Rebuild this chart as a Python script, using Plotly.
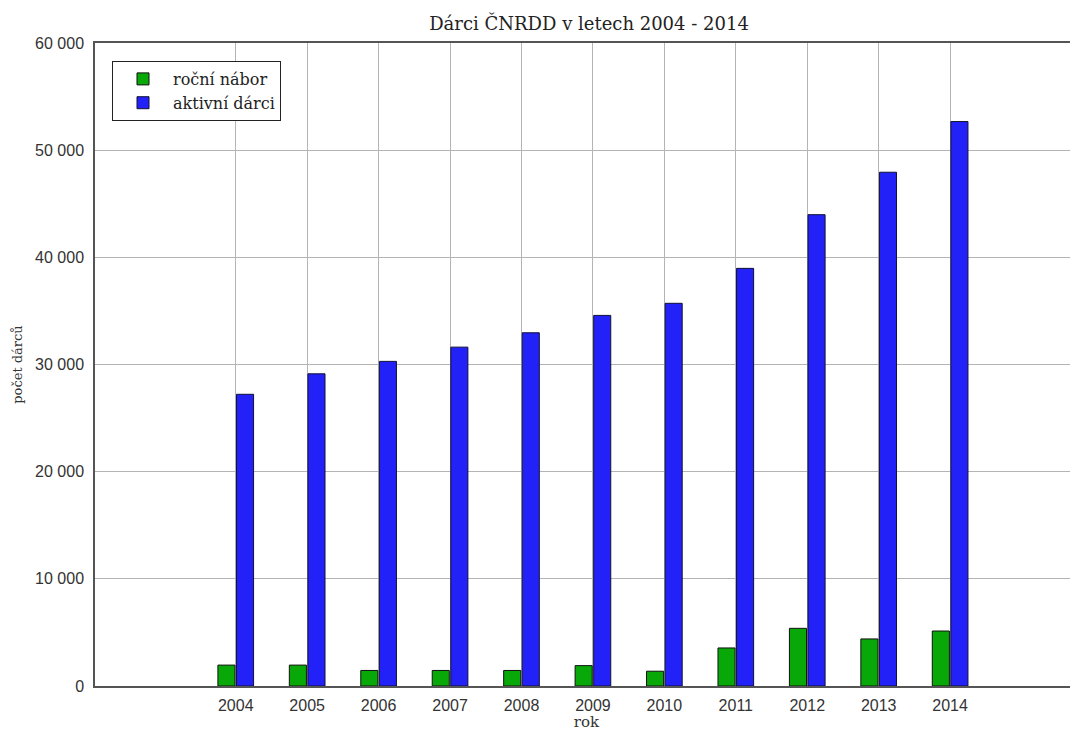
import plotly.graph_objects as go

years = [2004, 2005, 2006, 2007, 2008, 2009, 2010, 2011, 2012, 2013, 2014]
rocni_nabor = [1950, 1950, 1450, 1450, 1450, 1900, 1380, 3550, 5380, 4390, 5130]
aktivni_darci = [27220, 29130, 30290, 31620, 32960, 34580, 35710, 38970, 43980, 47940, 52670]
ytick_vals = [0, 10000, 20000, 30000, 40000, 50000, 60000]
ytick_text = ["0", "10 000", "20 000", "30 000", "40 000", "50 000", "60 000"]

fig = go.Figure()
fig.add_trace(go.Bar(x=years, y=rocni_nabor, name="roční nábor",
                     marker=dict(color="#08a808", line=dict(color="#111111", width=1))))
fig.add_trace(go.Bar(x=years, y=aktivni_darci, name="aktivní dárci",
                     marker=dict(color="#2222f8", line=dict(color="#111133", width=1))))

serif = "DejaVu Serif, Liberation Serif, serif"
sans = "Liberation Sans, Arial, sans-serif"

fig.update_layout(
    width=1070, height=723,
    margin=dict(l=87, r=0, t=35, b=44.5),
    paper_bgcolor="white", plot_bgcolor="white",
    barmode="group", bargap=0.48, bargroupgap=0.08,
    title=dict(text="Dárci ČNRDD v letech 2004 - 2014", x=0.543, xanchor="center",
               y=0.978, yanchor="middle", font=dict(family=serif, size=18, color="#222222")),
    legend=dict(x=0.0173, y=0.972, xanchor="left", yanchor="top",
                bgcolor="white", bordercolor="#222222", borderwidth=1,
                font=dict(family=serif, size=16, color="#222222"),
                itemwidth=50, tracegroupgap=0),
    xaxis=dict(range=[2002.03, 2015.79], tickvals=years, ticktext=[str(y) for y in years],
               showgrid=True, gridcolor="#b4b4b4", gridwidth=1,
               showline=True, linecolor="#555555", linewidth=1.5, mirror=True,
               ticks="", zeroline=False, ticklabelstandoff=4,
               tickfont=dict(family=sans, size=16, color="#333333"),
               title=dict(text="rok", font=dict(family=serif, size=15, color="#333333"), standoff=0)),
    yaxis=dict(range=[0, 60000], tickvals=ytick_vals, ticktext=ytick_text,
               showgrid=True, gridcolor="#b4b4b4", gridwidth=1,
               showline=True, linecolor="#555555", linewidth=1.5,
               ticks="", zeroline=False, ticklabelstandoff=6,
               tickfont=dict(family=sans, size=16, color="#333333"),
               title=dict(text="počet dárců", font=dict(family=serif, size=13, color="#333333"), standoff=10)),
)

fig.write_html("out.html")
